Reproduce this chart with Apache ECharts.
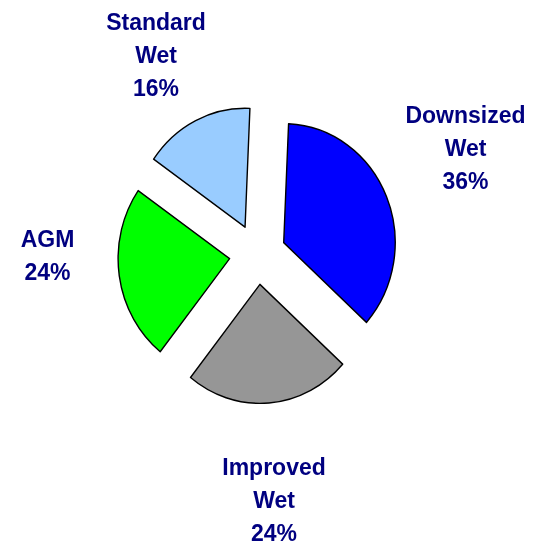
<!DOCTYPE html>
<html>
<head>
<meta charset="utf-8">
<script src="https://cdn.jsdelivr.net/npm/echarts@6/dist/echarts.min.js"></script>
<style>
  html, body { margin: 0; padding: 0; background: #ffffff; }
  #wrap { position: relative; width: 534px; height: 544px; overflow: hidden; }
  #pie, #labels { position: absolute; left: 0; top: 0; width: 534px; height: 544px; }
  /* the pie is drawn slightly taller than wide */
  #pie { transform-origin: 257.6px 254.3px; transform: scaleY(1.067); }
  #labels { pointer-events: none; }
</style>
</head>
<body>
<div id="wrap">
  <div id="pie"></div>
  <div id="labels"></div>
</div>
<script>
// Battery type shares (%)
const categories = ['Downsized Wet', 'Improved Wet', 'AGM', 'Standard Wet'];
const shares = [36, 24, 24, 16];

// Styling
const sliceColors = ['#0000FF', '#969696', '#00FF00', '#99CCFF'];
const labelColor = '#000080';
const center = [257.6, 254.3];
const radius = 111.5;
// label block centres: [distance from pie centre, angle in degrees]
const labelSpots = [[232.6, 26.64], [248.2, -86.21], [210.1, 180.87], [221.9, 117.24]];

const pieChart = echarts.init(document.getElementById('pie'), null, { renderer: 'svg' });
pieChart.setOption({
  backgroundColor: 'transparent',
  animation: false,
  series: [{
    type: 'pie',
    center: center,
    radius: radius,
    startAngle: 87.5,
    clockwise: true,
    selectedMode: 'multiple',
    selectedOffset: 28.3,
    animation: false,
    silent: true,
    emphasis: { disabled: true },
    itemStyle: { borderColor: '#000000', borderWidth: 1.4 },
    label: { show: false },
    labelLine: { show: false },
    data: categories.map((name, i) => ({
      name: name,
      value: shares[i],
      selected: true,
      itemStyle: { color: sliceColors[i] }
    }))
  }]
});

// Category labels with their shares, kept upright (not stretched with the pie)
const labelChart = echarts.init(document.getElementById('labels'));
labelChart.setOption({
  backgroundColor: 'transparent',
  animation: false,
  graphic: categories.map((name, i) => {
    const s = labelSpots[i];
    const a = s[1] * Math.PI / 180;
    return {
      type: 'text',
      silent: true,
      x: center[0] + s[0] * Math.cos(a),
      y: center[1] - s[0] * Math.sin(a),
      style: {
        text: name.split(' ').join('\n') + '\n' + shares[i] + '%',
        fill: labelColor,
        fontFamily: 'Liberation Sans, Arial, sans-serif',
        fontWeight: 'bold',
        fontSize: 23,
        lineHeight: 33,
        align: 'center',
        verticalAlign: 'middle'
      }
    };
  })
});
</script>
</body>
</html>
